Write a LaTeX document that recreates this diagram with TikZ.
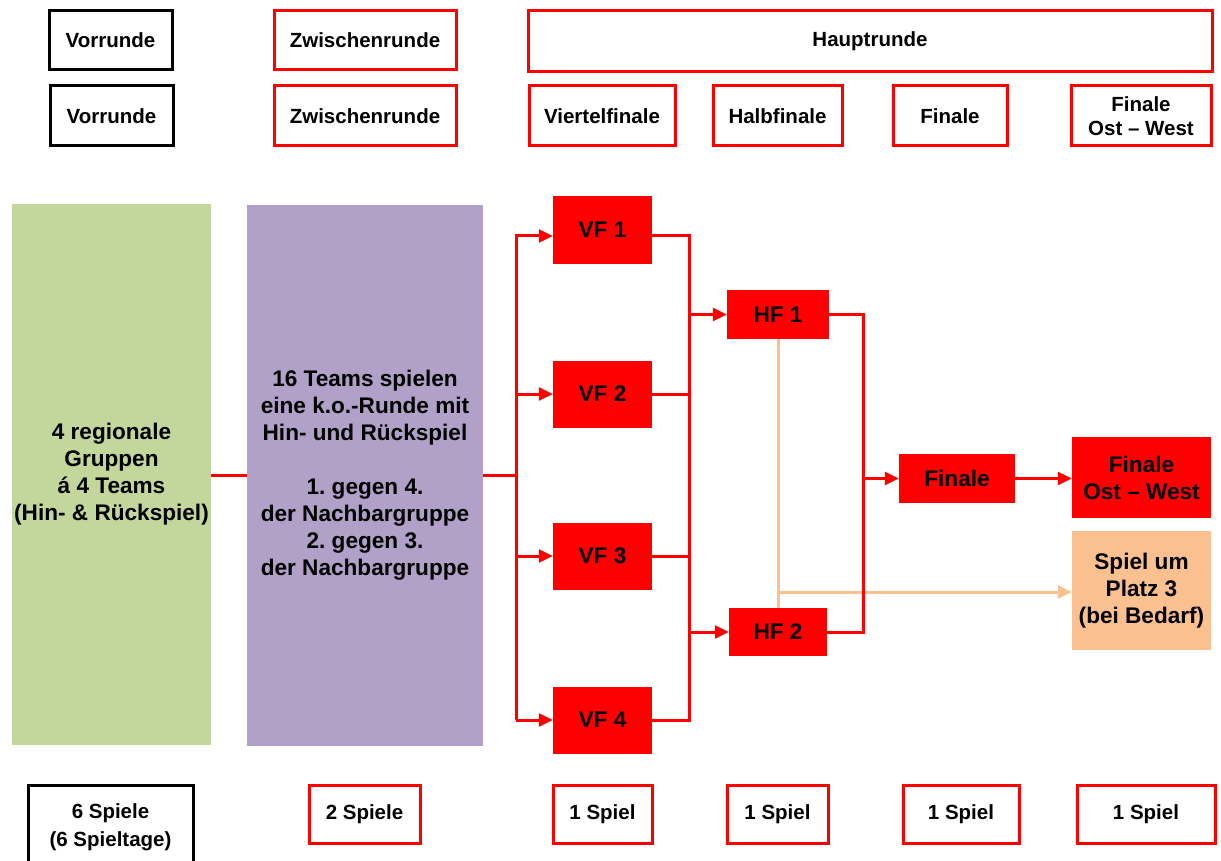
\documentclass[tikz,border=0pt]{standalone}
\usepackage{fontspec}
\setmainfont{Liberation Sans}
\usetikzlibrary{arrows.meta,calc}
\definecolor{rd}{HTML}{FF0000}
\definecolor{grn}{HTML}{C3D69B}
\definecolor{prp}{HTML}{B1A0C7}
\definecolor{org}{HTML}{FAC090}
\frenchspacing
\begin{document}
\begin{tikzpicture}[x=1pt,y=-1pt,
  lbl/.style={draw, line width=3pt, rectangle, inner sep=0pt, align=center,
    font=\fontsize{20.5}{24}\selectfont\bfseries},
  redlbl/.style={lbl, draw=rd},
  blklbl/.style={lbl, draw=black},
  game/.style={fill=rd, inner sep=0pt, align=center,
    font=\fontsize{22.6}{27}\selectfont\bfseries},
  bigbox/.style={inner sep=0pt, align=center,
    font=\fontsize{22.6}{27}\selectfont\bfseries},
  conn/.style={draw=rd, line width=3pt, line join=miter},
  arr/.style={conn, -{Triangle[length=14pt,width=13pt]}},
  orng/.style={draw=org, line width=3pt},
  oarr/.style={orng, -{Triangle[length=14pt,width=13pt]}}
]
\useasboundingbox (0,0) rectangle (1221,861);
\clip (0,0) rectangle (1221,861);
\fill[white] (0,0) rectangle (1221,861);

% top rows
\node[blklbl, minimum width=123, minimum height=59] (v1) at (110.5,40.5) {Vorrunde};
\node[redlbl, minimum width=182, minimum height=59] (z1) at (365,40.5) {Zwischenrunde};
\node[redlbl, minimum width=684, minimum height=61] (hr) at (870,41.5) {Hauptrunde};

\node[blklbl, minimum width=123, minimum height=60] (v2) at (111.5,116) {Vorrunde};
\node[redlbl, minimum width=182, minimum height=60] (z2) at (365,116) {Zwischenrunde};
\node[redlbl, minimum width=146, minimum height=60] (vfl) at (602,116) {Viertelfinale};
\node[redlbl, minimum width=129, minimum height=60] (hfl) at (777.5,116) {Halbfinale};
\node[redlbl, minimum width=114, minimum height=60] (fl) at (950,116) {Finale};
\node[redlbl, minimum width=140, minimum height=60] (fowl) at (1141,116) {Finale\\Ost -- West};

% main blocks
\node[bigbox, fill=grn, minimum width=199, minimum height=541] (grp) at (111.5,474.5)
  {4 regionale\\Gruppen\\á 4 Teams\\(Hin- \& Rückspiel)};
\node[bigbox, fill=prp, minimum width=236, minimum height=541] (zw) at (365,475.5)
  {16 Teams spielen\\eine k.o.-Runde mit\\Hin- und Rückspiel\\[27pt]1. gegen 4.\\der Nachbargruppe\\2. gegen 3.\\der Nachbargruppe};

\node[game, minimum width=99, minimum height=67] (vf1) at (602.5,230) {VF 1};
\node[game, minimum width=99, minimum height=67] (vf2) at (602.5,394) {VF 2};
\node[game, minimum width=99, minimum height=67] (vf3) at (602.5,556) {VF 3};
\node[game, minimum width=99, minimum height=67] (vf4) at (602.5,720) {VF 4};

\node[game, minimum width=102, minimum height=49] (hf1) at (778,314.5) {HF 1};
\node[game, minimum width=98, minimum height=48] (hf2) at (778,632) {HF 2};
\node[game, minimum width=116, minimum height=49] (fin) at (957,478.5) {Finale};
\node[game, minimum width=139, minimum height=81] (fow) at (1141.5,477.5) {Finale\\Ost -- West};
\node[game, fill=org, minimum width=139, minimum height=119] (p3) at (1141.5,590.5) {Spiel um\\Platz 3\\(bei Bedarf)};

% bottom row
\node[blklbl, minimum width=165, minimum height=84, font=\fontsize{20.5}{28}\selectfont\bfseries] (s6) at (110.5,827) {6 Spiele\\(6 Spieltage)};
\node[redlbl, minimum width=111, minimum height=58] (s2) at (364.5,814) {2 Spiele};
\node[redlbl, minimum width=99, minimum height=58] (sp1) at (602.5,814) {1 Spiel};
\node[redlbl, minimum width=101, minimum height=58] (sp2) at (777.5,814) {1 Spiel};
\node[redlbl, minimum width=116, minimum height=58] (sp3) at (961,814) {1 Spiel};
\node[redlbl, minimum width=138, minimum height=58] (sp4) at (1146,814) {1 Spiel};

% junction coordinates
\coordinate (j1) at (516,475);
\coordinate (j2) at (689,475);
\coordinate (j3) at (863,475);
\coordinate (r1) at (0,236);
\coordinate (o) at (779,592);

% orange connectors (behind red)
\draw[orng] (hf1.south) -- (hf2.north);
\draw[oarr] (hf1.south |- o) -- (p3.west |- o);

% red connectors
\draw[conn] (grp.east |- zw) -- (zw.west);
\draw[conn] (zw.east) -- (zw.east -| j1);
\draw[arr] (vf4.west -| j1) -- (j1 |- r1) -- (vf1.west |- r1);
\draw[arr] (j1 |- vf2) -- (vf2.west);
\draw[arr] (j1 |- vf3) -- (vf3.west);
\draw[arr] (j1 |- vf4) -- (vf4.west);
\draw[conn] (vf1.east |- r1) -- (j2 |- r1) -- (j2 |- vf4) -- (vf4.east);
\draw[conn] (vf2.east) -- (j2 |- vf2);
\draw[conn] (vf3.east) -- (j2 |- vf3);
\draw[arr] (j2 |- hf1) -- (hf1.west);
\draw[arr] (j2 |- hf2) -- (hf2.west);
\draw[conn] (hf1.east) -- (j3 |- hf1) -- (j3 |- hf2) -- (hf2.east);
\draw[arr] (j3 |- fin) -- (fin.west);
\draw[arr] (fin.east) -- (fow.west |- fin);
\end{tikzpicture}
\end{document}
